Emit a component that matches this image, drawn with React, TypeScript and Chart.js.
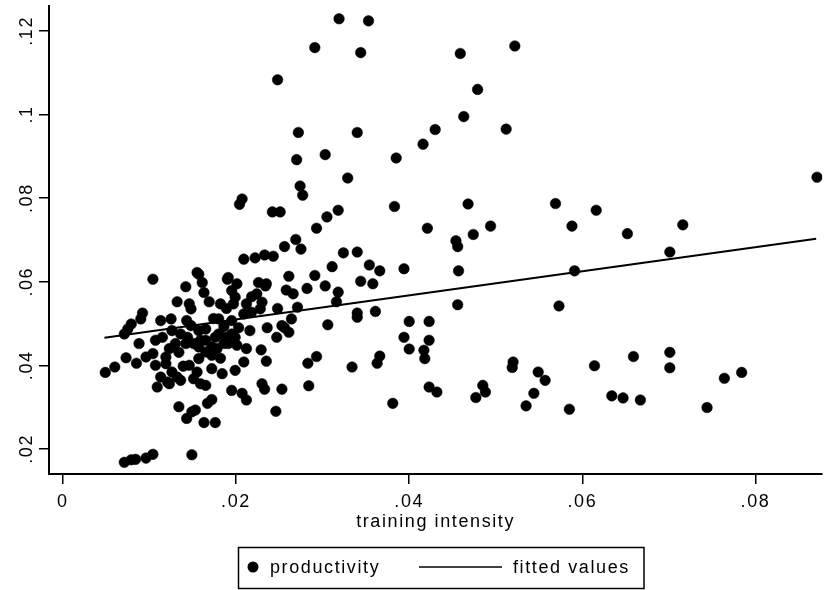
import { useEffect, useRef } from 'react';
import { Chart, registerables } from 'chart.js';

Chart.register(...registerables);

const trainingIntensity = [
  0.0319, 0.0353, 0.0291, 0.0344, 0.0459, 0.0522, 0.0248, 0.0479, 0.0463, 0.0430,
  0.0416, 0.0512, 0.0272, 0.0340, 0.0270, 0.0303, 0.0385, 0.0329, 0.0274, 0.0277,
  0.0242, 0.0251, 0.0318, 0.0305, 0.0293, 0.0383, 0.0468, 0.0421, 0.0474, 0.0494,
  0.0454, 0.0456, 0.0269, 0.0256, 0.0275, 0.0324, 0.0340, 0.0207, 0.0204, 0.0569,
  0.0616, 0.0588, 0.0652, 0.0716, 0.0701, 0.0871, 0.0591, 0.0573, 0.0549, 0.0557,
  0.0544, 0.0585, 0.0614, 0.0634, 0.0647, 0.0667, 0.0659, 0.0701, 0.0701, 0.0744,
  0.0764, 0.0784, 0.0233, 0.0243, 0.0311, 0.0354, 0.0366, 0.0394, 0.0457, 0.0261,
  0.0291, 0.0235, 0.0258, 0.0266, 0.0282, 0.0303, 0.0344, 0.0358, 0.0318, 0.0316,
  0.0248, 0.0271, 0.0456, 0.0264, 0.0340, 0.0340, 0.0361, 0.0306, 0.0400, 0.0423,
  0.0236, 0.0256, 0.0261, 0.0247, 0.0394, 0.0423, 0.0400, 0.0417, 0.0418, 0.0229,
  0.0235, 0.0283, 0.0293, 0.0334, 0.0363, 0.0366, 0.0520, 0.0519, 0.0230, 0.0233,
  0.0253, 0.0284, 0.0423, 0.0432, 0.0485, 0.0488, 0.0477, 0.0535, 0.0381, 0.0246,
  0.0104, 0.0049, 0.0060, 0.0073, 0.0085, 0.0096, 0.0104, 0.0088, 0.0071, 0.0079,
  0.0092, 0.0113, 0.0125, 0.0132, 0.0142, 0.0155, 0.0161, 0.0146, 0.0148, 0.0169,
  0.0182, 0.0191, 0.0201, 0.0195, 0.0199, 0.0197, 0.0209, 0.0222, 0.0226, 0.0234,
  0.0224, 0.0230, 0.0209, 0.0218, 0.0216, 0.0180, 0.0195, 0.0126, 0.0136, 0.0148,
  0.0157, 0.0165, 0.0176, 0.0188, 0.0195, 0.0142, 0.0157, 0.0172, 0.0191, 0.0130,
  0.0107, 0.0115, 0.0157, 0.0172, 0.0209, 0.0199, 0.0107, 0.0119, 0.0126, 0.0121,
  0.0132, 0.0136, 0.0109, 0.0146, 0.0155, 0.0151, 0.0159, 0.0165, 0.0172, 0.0184,
  0.0195, 0.0207, 0.0212, 0.0134, 0.0149, 0.0143, 0.0167, 0.0172, 0.0163, 0.0176,
  0.0149, 0.0071, 0.0079, 0.0084, 0.0096, 0.0104, 0.0157, 0.0190, 0.0212, 0.0228,
  0.0253, 0.0165, 0.0180, 0.0090, 0.0075, 0.0119, 0.0113, 0.0123, 0.0144, 0.0151,
  0.0159, 0.0186, 0.0199, 0.0201, 0.0165, 0.0178, 0.0153, 0.0163, 0.0174, 0.0186,
  0.0134, 0.0182, 0.0212, 0.0203, 0.0143, 0.0123, 0.0189, 0.0218, 0.0139,
];

const productivity = [
  0.1229, 0.1224, 0.1160, 0.1148, 0.1146, 0.1164, 0.1083, 0.1060, 0.0995, 0.0964,
  0.0929, 0.0965, 0.0957, 0.0957, 0.0892, 0.0904, 0.0896, 0.0848, 0.0829, 0.0807,
  0.0767, 0.0767, 0.0771, 0.0755, 0.0728, 0.0780, 0.0786, 0.0728, 0.0713, 0.0733,
  0.0698, 0.0684, 0.0701, 0.0684, 0.0678, 0.0669, 0.0671, 0.0798, 0.0785, 0.0787,
  0.0771, 0.0733, 0.0715, 0.0736, 0.0671, 0.0850, 0.0626, 0.0542, 0.0384, 0.0364,
  0.0333, 0.0295, 0.0399, 0.0327, 0.0322, 0.0317, 0.0421, 0.0431, 0.0394, 0.0299,
  0.0369, 0.0383, 0.0664, 0.0661, 0.0636, 0.0640, 0.0626, 0.0631, 0.0626, 0.0613,
  0.0615, 0.0595, 0.0580, 0.0571, 0.0584, 0.0590, 0.0601, 0.0595, 0.0575, 0.0552,
  0.0536, 0.0539, 0.0545, 0.0511, 0.0525, 0.0515, 0.0529, 0.0497, 0.0505, 0.0505,
  0.0490, 0.0490, 0.0479, 0.0467, 0.0467, 0.0460, 0.0439, 0.0436, 0.0416, 0.0437,
  0.0410, 0.0405, 0.0421, 0.0396, 0.0405, 0.0422, 0.0408, 0.0395, 0.0356, 0.0343,
  0.0343, 0.0351, 0.0348, 0.0336, 0.0352, 0.0336, 0.0323, 0.0303, 0.0309, 0.0290,
  0.0606, 0.0383, 0.0396, 0.0418, 0.0405, 0.0420, 0.0428, 0.0452, 0.0475, 0.0499,
  0.0525, 0.0507, 0.0511, 0.0552, 0.0588, 0.0622, 0.0598, 0.0547, 0.0535, 0.0552,
  0.0547, 0.0610, 0.0595, 0.0579, 0.0563, 0.0547, 0.0654, 0.0657, 0.0598, 0.0590,
  0.0571, 0.0551, 0.0523, 0.0527, 0.0483, 0.0511, 0.0507, 0.0483, 0.0475, 0.0495,
  0.0483, 0.0460, 0.0467, 0.0467, 0.0475, 0.0452, 0.0444, 0.0444, 0.0452, 0.0452,
  0.0460, 0.0467, 0.0416, 0.0424, 0.0408, 0.0388, 0.0400, 0.0404, 0.0384, 0.0360,
  0.0372, 0.0364, 0.0348, 0.0400, 0.0384, 0.0368, 0.0356, 0.0352, 0.0392, 0.0380,
  0.0340, 0.0333, 0.0317, 0.0301, 0.0289, 0.0273, 0.0309, 0.0318, 0.0263, 0.0263,
  0.0186, 0.0168, 0.0174, 0.0175, 0.0178, 0.0187, 0.0618, 0.0606, 0.0547, 0.0535,
  0.0495, 0.0487, 0.0475, 0.0511, 0.0487, 0.0420, 0.0372, 0.0356, 0.0467, 0.0452,
  0.0460, 0.0452, 0.0467, 0.0448, 0.0432, 0.0440, 0.0293, 0.0574, 0.0512, 0.0493,
  0.0431, 0.0417, 0.0440, 0.0490, 0.0507, 0.0440, 0.0536, 0.0564, 0.0398,
];

const fittedX = [0.0048, 0.087];
const fittedY = [0.0466, 0.0703];

const xTicks = [0, 0.02, 0.04, 0.06, 0.08];
const xTickLabels = ['0', '.02', '.04', '.06', '.08'];
const yTicks = [0.02, 0.04, 0.06, 0.08, 0.1, 0.12];
const yTickLabels = ['.02', '.04', '.06', '.08', '.1', '.12'];
const seriesLabels = ['productivity', 'fitted values'];
const xTitle = 'training intensity';

const FONT = '"Liberation Sans", Arial, Helvetica, sans-serif';
const SPACING = '1.6px';

export default function App() {
  const ref = useRef<HTMLCanvasElement>(null);

  useEffect(() => {
    document.body.style.margin = '0';
    const canvas = ref.current;
    if (!canvas) return;

    const setSpacing = (chart: any) => {
      (chart.ctx as any).letterSpacing = SPACING;
    };

    const stataPlugin = {
      id: 'stataDecor',
      beforeLayout: setSpacing,
      beforeDraw: setSpacing,
      afterDraw(chart: any) {
        const ctx = chart.ctx as CanvasRenderingContext2D;
        const yScale = chart.scales.y;
        ctx.save();
        (ctx as any).letterSpacing = SPACING;
        ctx.fillStyle = '#000';
        ctx.font = `18px ${FONT}`;
        ctx.textAlign = 'center';
        ctx.textBaseline = 'alphabetic';
        yTicks.forEach((v, i) => {
          const py = yScale.getPixelForValue(v);
          ctx.save();
          ctx.translate(32, py);
          ctx.rotate(-Math.PI / 2);
          ctx.fillText(yTickLabels[i], 0, 0);
          ctx.restore();
        });

        // legend box
        ctx.strokeStyle = '#000';
        ctx.lineWidth = 1.5;
        ctx.strokeRect(238.5, 547.5, 405.5, 41);
        ctx.beginPath();
        ctx.arc(253, 567, 5.5, 0, Math.PI * 2);
        ctx.fill();
        ctx.textAlign = 'left';
        ctx.fillText(seriesLabels[0], 270, 573);
        ctx.beginPath();
        ctx.lineWidth = 1.5;
        ctx.moveTo(419, 567);
        ctx.lineTo(502, 567);
        ctx.stroke();
        ctx.fillText(seriesLabels[1], 513, 573);
        ctx.restore();
      },
    };

    const gridOpts = {
      display: true,
      drawOnChartArea: false,
      drawTicks: true,
      tickLength: 10,
      color: '#000',
      lineWidth: 1.5,
    };
    const borderOpts = { display: true, color: '#000', width: 2 };

    const chart = new Chart(canvas, {
      type: 'scatter',
      data: {
        datasets: [
          {
            label: seriesLabels[0],
            data: trainingIntensity.map((x, i) => ({ x, y: productivity[i] })),
            pointRadius: 5.3,
            pointHoverRadius: 5.3,
            pointBackgroundColor: '#000',
            pointBorderColor: '#000',
            pointBorderWidth: 0.5,
          },
          {
            label: seriesLabels[1],
            data: fittedX.map((x, i) => ({ x, y: fittedY[i] })),
            showLine: true,
            borderColor: '#000',
            borderWidth: 2,
            pointRadius: 0,
            pointHoverRadius: 0,
            fill: false,
          },
        ],
      },
      options: {
        responsive: false,
        animation: false,
        events: [],
        layout: { padding: { top: 4, bottom: 46, left: 0, right: 0 } },
        plugins: { legend: { display: false }, tooltip: { enabled: false } },
        scales: {
          x: {
            type: 'linear',
            min: -0.0016,
            max: 0.0877,
            afterBuildTicks: (s: any) => {
              s.ticks = xTicks.map((v) => ({ value: v }));
            },
            afterFit: (s: any) => {
              s.height = 70;
            },
            ticks: {
              callback: (v: any) => {
                const k = xTicks.findIndex((t) => Math.abs(t - Number(v)) < 1e-9);
                return k >= 0 ? xTickLabels[k] : '';
              },
              color: '#000',
              font: { family: FONT, size: 18 },
              padding: 7,
              maxRotation: 0,
              autoSkip: false,
            },
            grid: gridOpts,
            border: borderOpts,
            title: {
              display: true,
              text: xTitle,
              color: '#000',
              font: { family: FONT, size: 18 },
              padding: { top: 0, bottom: 11 },
            },
          },
          y: {
            type: 'linear',
            min: 0.014,
            max: 0.126,
            afterBuildTicks: (s: any) => {
              s.ticks = yTicks.map((v) => ({ value: v }));
            },
            afterFit: (s: any) => {
              s.width = 49;
            },
            ticks: { display: false },
            grid: gridOpts,
            border: borderOpts,
          },
        },
      },
      plugins: [stataPlugin],
    } as any);

    return () => chart.destroy();
  }, []);

  return (
    <div style={{ position: 'absolute', left: 0, top: 0, width: 828, height: 590, background: '#fff' }}>
      <canvas ref={ref} width={828} height={590} style={{ display: 'block', width: 828, height: 590 }} />
    </div>
  );
}
